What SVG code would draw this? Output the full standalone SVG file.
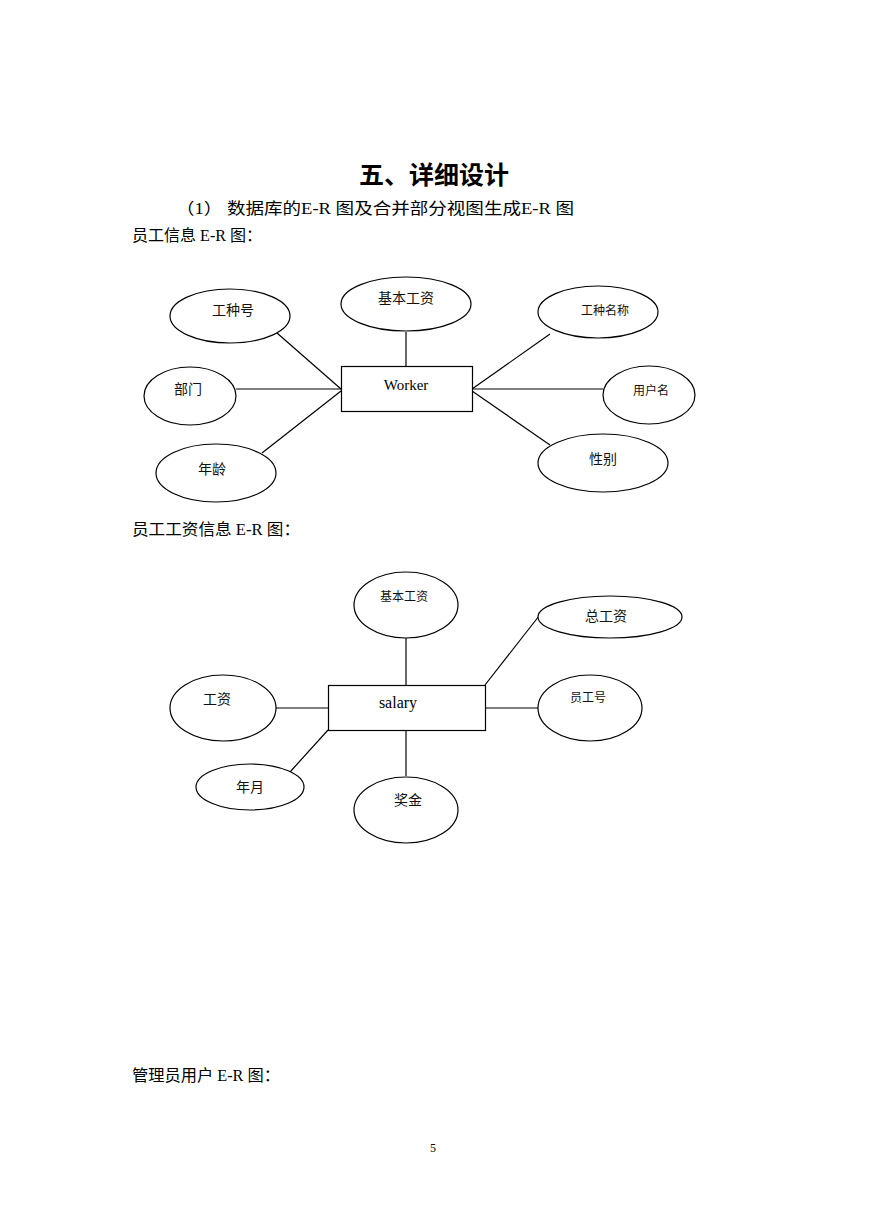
<svg xmlns="http://www.w3.org/2000/svg" width="869" height="1228" viewBox="0 0 869 1228">
<style>
.bg{fill:#ffffff}
.t{font-family:"Liberation Serif","Noto Sans CJK SC",serif;fill:#000}
.cn{font-family:"Liberation Serif","Noto Sans CJK SC",serif;fill:#000;font-size:16px}
.lbl{font-family:"Liberation Serif","Noto Sans CJK SC",serif;fill:#111;font-size:14px;text-anchor:middle}
.sm{font-size:12px}
.e{fill:#fff;stroke:#000;stroke-width:1.2}
.r{fill:#fff;stroke:#000;stroke-width:1.2}
.c line{stroke:#000;stroke-width:1.2}
</style>
<rect class="bg" x="0" y="0" width="869" height="1228"/>
<text class="t" x="434" y="184" font-size="25" font-weight="bold" text-anchor="middle">五、详细设计</text>
<text class="cn" x="176" y="214" textLength="398" lengthAdjust="spacingAndGlyphs">（1） 数据库的E-R 图及合并部分视图生成E-R 图</text>
<text class="cn" x="132" y="241" textLength="130" lengthAdjust="spacingAndGlyphs">员工信息 E-R 图：</text>
<text class="cn" x="132" y="535" textLength="168" lengthAdjust="spacingAndGlyphs">员工工资信息 E-R 图：</text>
<text class="cn" x="132" y="1081" textLength="148" lengthAdjust="spacingAndGlyphs">管理员用户 E-R 图：</text>
<text class="t" x="433" y="1152" font-size="12" text-anchor="middle">5</text>

<g id="er1-connectors" class="c">
<line x1="277" y1="333" x2="341" y2="389"/>
<line x1="236" y1="389" x2="341" y2="389"/>
<line x1="262" y1="453" x2="341" y2="391"/>
<line x1="406" y1="332" x2="406" y2="366"/>
<line x1="550" y1="334" x2="472" y2="389"/>
<line x1="603" y1="389" x2="472" y2="389"/>
<line x1="550" y1="445" x2="472" y2="391"/>
</g>
<g id="worker"><rect class="r" x="341.5" y="366.5" width="131" height="45"/><text class="t" x="406" y="390" font-size="15" text-anchor="middle">Worker</text></g>
<g id="w-jbgz"><ellipse class="e" cx="406" cy="304" rx="65" ry="27"/><text class="lbl" x="406" y="303">基本工资</text></g>
<g id="w-gzh"><ellipse class="e" cx="230" cy="316" rx="60" ry="27"/><text class="lbl" x="233" y="315">工种号</text></g>
<g id="w-gzmc"><ellipse class="e" cx="598" cy="312" rx="60" ry="26"/><text class="lbl sm" x="605" y="315">工种名称</text></g>
<g id="w-bm"><ellipse class="e" cx="190" cy="396" rx="46" ry="29"/><text class="lbl" x="188" y="394">部门</text></g>
<g id="w-yhm"><ellipse class="e" cx="649" cy="395" rx="46" ry="29"/><text class="lbl sm" x="651" y="395">用户名</text></g>
<g id="w-nl"><ellipse class="e" cx="216" cy="473" rx="60" ry="29"/><text class="lbl" x="212" y="474">年龄</text></g>
<g id="w-xb"><ellipse class="e" cx="603" cy="463" rx="65" ry="29"/><text class="lbl" x="603" y="464">性别</text></g>

<g id="er2-connectors" class="c">
<line x1="406" y1="638" x2="406" y2="685"/>
<line x1="539" y1="616" x2="485" y2="685"/>
<line x1="276" y1="708" x2="328" y2="708"/>
<line x1="485" y1="708" x2="538" y2="708"/>
<line x1="290" y1="772" x2="328" y2="730"/>
<line x1="406" y1="730" x2="406" y2="776"/>
</g>
<g id="salary"><rect class="r" x="328.5" y="685.5" width="157" height="45"/><text class="t" x="398" y="708" font-size="16" text-anchor="middle">salary</text></g>
<g id="s-jbgz"><ellipse class="e" cx="406" cy="605" rx="52" ry="33"/><text class="lbl sm" x="404" y="601">基本工资</text></g>
<g id="s-zgz"><ellipse class="e" cx="610" cy="617" rx="72" ry="21"/><text class="lbl" x="606" y="621">总工资</text></g>
<g id="s-gz"><ellipse class="e" cx="223" cy="708" rx="53" ry="33"/><text class="lbl" x="217" y="704">工资</text></g>
<g id="s-ygh"><ellipse class="e" cx="590" cy="708" rx="52" ry="33"/><text class="lbl sm" x="588" y="702">员工号</text></g>
<g id="s-ny"><ellipse class="e" cx="250" cy="787" rx="54" ry="23"/><text class="lbl" x="250" y="792">年月</text></g>
<g id="s-jj"><ellipse class="e" cx="406" cy="810" rx="52" ry="33"/><text class="lbl" x="408" y="805">奖金</text></g>
</svg>
